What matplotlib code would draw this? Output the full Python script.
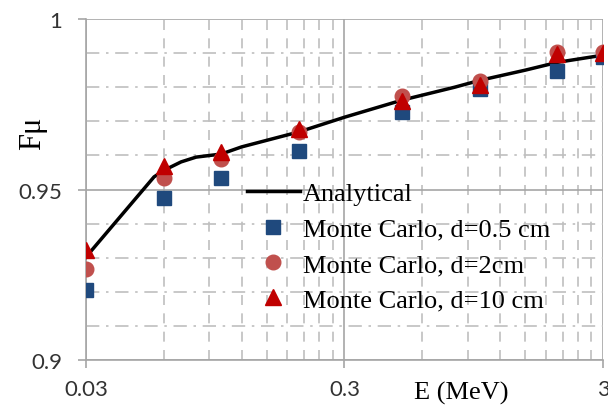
import matplotlib.pyplot as plt
from matplotlib.ticker import FixedLocator, NullFormatter

# Analytical curve
e_line = [0.03, 0.055, 0.06, 0.07, 0.08, 0.1, 0.12, 0.2, 0.3, 0.5, 0.8, 1.0, 1.5, 2.0, 3.0]
f_line = [0.9302, 0.9537, 0.9556, 0.9581, 0.9595, 0.9604, 0.9625, 0.9669, 0.9712,
          0.9762, 0.980, 0.982, 0.985, 0.9873, 0.9894]

# Monte Carlo points
e_mc = [0.03, 0.06, 0.1, 0.2, 0.5, 1.0, 2.0, 3.0]
f_d05 = [0.9206, 0.9475, 0.9534, 0.9613, 0.9727, 0.9795, 0.9848, 0.9889]
f_d2 = [0.9268, 0.9534, 0.959, 0.9669, 0.9774, 0.9818, 0.9903, 0.9903]
f_d10 = [0.9323, 0.957, 0.961, 0.9677, 0.976, 0.9806, 0.9897, 0.990]

fig = plt.figure(figsize=(6.08, 4.06), dpi=100)
ax = fig.add_axes([0.1414, 0.1108, 0.8504, 0.8399])

ax.plot(e_line, f_line, color='black', lw=2.5, label='Analytical', zorder=3)
ax.plot(e_mc, f_d05, 's', color='#1F497D', ms=10, label='Monte Carlo, d=0.5 cm', zorder=4)
ax.plot(e_mc, f_d2, 'o', color='#C0504D', ms=10.5, label='Monte Carlo, d=2cm', zorder=5)
ax.plot(e_mc, f_d10, '^', color='#C00000', ms=11, label='Monte Carlo, d=10 cm', zorder=6)

ax.set_xscale('log')
ax.set_xlim(0.03, 3)
ax.set_ylim(0.9, 1.0)

# Excel-style ticks: majors per decade, minors at steps of 0.03 / 0.3
ax.xaxis.set_major_locator(FixedLocator([0.03, 0.3, 3]))
ax.set_xticklabels(['0.03', '0.3', '3'])
minors = [0.03 * k for k in range(2, 10)] + [0.3 * k for k in range(2, 10)]
ax.xaxis.set_minor_locator(FixedLocator(minors))
ax.xaxis.set_minor_formatter(NullFormatter())
ax.yaxis.set_major_locator(FixedLocator([0.9, 0.95, 1.0]))
ax.set_yticklabels(['0.9', '0.95', '1'])
ax.yaxis.set_minor_locator(FixedLocator([0.9 + 0.01 * k for k in range(1, 10) if k != 5]))

ax.grid(which='major', color='#a6a6a6', lw=1.2, ls='-')
ax.grid(which='minor', axis='x', color='#bfbfbf', lw=1.2, ls=(0, (6, 5)))
ax.grid(which='minor', axis='y', color='#bfbfbf', lw=1.2, ls=(0, (8, 4, 1.5, 4)))
ax.set_axisbelow(True)

for s in ['top', 'right']:
    ax.spines[s].set_visible(False)
for s in ['left', 'bottom']:
    ax.spines[s].set_color('#a6a6a6')
    ax.spines[s].set_linewidth(1.2)

ax.tick_params(which='major', length=6, color='#a6a6a6', width=1.2, labelsize=16)
ax.tick_params(which='minor', length=0)
ax.tick_params(axis='y', pad=11)
ax.tick_params(axis='x', pad=8)
for lab in ax.get_xticklabels() + ax.get_yticklabels():
    lab.set_family('Lato')
    lab.set_color('#333333')

ax.set_ylabel('Fμ', family='Liberation Serif', fontsize=22)
ax.yaxis.set_label_coords(-0.076, 0.669)
ax.text(0.725, -0.094, 'E (MeV)', transform=ax.transAxes, ha='center', va='center',
        family='Liberation Serif', fontsize=19)

ax.legend(loc='upper left', bbox_to_anchor=(0.311, 0.522), frameon=False,
          prop={'family': 'Liberation Serif', 'size': 19}, handlelength=2.0,
          handletextpad=0.12, labelspacing=0.45, borderpad=0, borderaxespad=0,
          numpoints=1)

fig.savefig('out.png', dpi=100)
